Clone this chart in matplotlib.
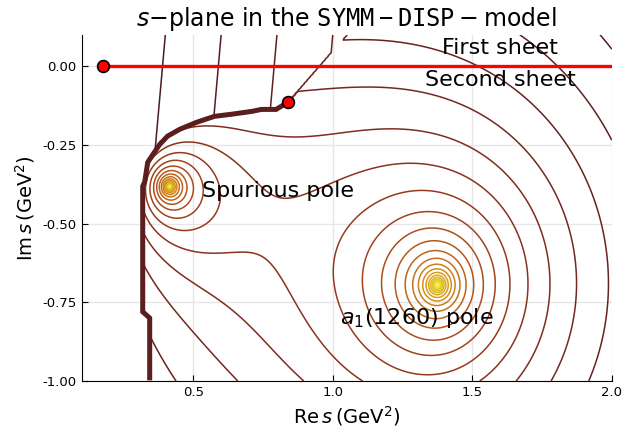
import numpy as np
import matplotlib.pyplot as plt
from matplotlib.colors import LinearSegmentedColormap, Normalize
from matplotlib.path import Path

# poles on the second sheet (Re s, Im s) in GeV^2 and their residues
pole_re = [1.375, 0.415]
pole_im = [-0.695, -0.382]
pole_res = [0.5, -0.15]

# thresholds (3pi on real axis, rho-pi complex branch point)
thr_re = [0.175, 0.84]
thr_im = [0.0, -0.114]

# staircase where the contours pile up along the cut
cut_re = [0.84, 0.797, 0.744, 0.712, 0.64, 0.576, 0.512, 0.452, 0.408, 0.38,
          0.351, 0.337, 0.326, 0.319, 0.319, 0.344, 0.344]
cut_im = [-0.114, -0.137, -0.137, -0.143, -0.152, -0.159, -0.178, -0.2, -0.222,
          -0.248, -0.286, -0.305, -0.368, -0.381, -0.78, -0.8, -0.99]

xticks = [0.5, 1.0, 1.5, 2.0]
xtick_labels = ["0.5", "1.0", "1.5", "2.0"]
yticks = [0.0, -0.25, -0.5, -0.75, -1.0]
ytick_labels = ["0.00", "-0.25", "-0.50", "-0.75", "-1.00"]


def second_sheet(X, Y):
    s = X + 1j * Y
    a = 0.0
    for re, im, r in zip(pole_re, pole_im, pole_res):
        a = a + r / (s - complex(re, im))
    return np.log(np.abs(a)) - 0.24 * X


def above_cut(X, Y):
    return -0.75 + 1.25 * (X - 1.03) - 0.125 * Y


x = np.linspace(0.1, 2.0, 700)
y = np.linspace(-1.0, 0.1, 500)
X, Y = np.meshgrid(x, y)
pts = np.c_[X.ravel(), Y.ravel()]

upper = list(zip(cut_re[:14], cut_im[:14])) + [(0.0, cut_im[13]), (0.0, 0.2), (1.15, 0.2)]
above = Path(upper).contains_points(pts).reshape(X.shape)
Z = np.where(above, above_cut(X, Y), second_sheet(X, Y))

# hide the part left of the cut
lower = list(zip(cut_re[13:], cut_im[13:])) + [(cut_re[-1], -1.1), (0.0, -1.1), (0.0, cut_im[13])]
hidden = Path(lower).contains_points(pts).reshape(X.shape)
Z = np.ma.masked_where(hidden, Z)

cmap = LinearSegmentedColormap.from_list(
    "brown", ["#4a1a1f", "#6e2520", "#9a3a1e", "#c0621a", "#d89a1a", "#e2c424", "#eaea44"])

fig, ax = plt.subplots(figsize=(6.23, 4.30), dpi=100)
fig.subplots_adjust(left=0.131, right=0.982, top=0.919, bottom=0.114)

levels = np.arange(-1.55, 4.3, 0.25)
ax.contour(X, Y, Z, levels=levels, cmap=cmap, norm=Normalize(-1.6, 4.0),
           linewidths=1.1)

ax.plot(cut_re, cut_im, color="#5a1e1e", lw=3.6, solid_joinstyle="miter")

ax.plot([thr_re[0], 2.0], [0.0, 0.0], color="red", lw=2.4, zorder=5)
ax.plot(thr_re, thr_im, "o", color="red", mec="black", mew=1.2, ms=8.5, zorder=6)

ax.text(1.6, 0.057, "First sheet", fontsize=16, ha="center", va="center")
ax.text(1.6, -0.043, "Second sheet", fontsize=16, ha="center", va="center")
ax.text(0.53, -0.397, "Spurious pole", fontsize=16, ha="left", va="center")
ax.text(1.026, -0.8, r"$a_1$(1260) pole", fontsize=16, ha="left", va="center")

ax.set_title(r"$s\mathrm{-plane\ in\ the\ }\mathtt{SYMM-DISP}-\mathrm{model}$",
             fontsize=17)
ax.set_xlabel(r"$\mathrm{Re}\,s\,(\mathrm{GeV}^2)$", fontsize=14)
ax.set_ylabel(r"$\mathrm{Im}\,s\,(\mathrm{GeV}^2)$", fontsize=14)

ax.set_xlim(0.1, 2.0)
ax.set_ylim(-1.0, 0.1)
ax.set_xticks(xticks)
ax.set_xticklabels(xtick_labels)
ax.set_yticks(yticks)
ax.set_yticklabels(ytick_labels)
ax.tick_params(direction="in", labelsize=9.5, length=4)
ax.grid(True, color="#e6e6e6", lw=1)
ax.set_axisbelow(True)
for side in ["top", "right"]:
    ax.spines[side].set_visible(False)

fig.savefig("out.png")
